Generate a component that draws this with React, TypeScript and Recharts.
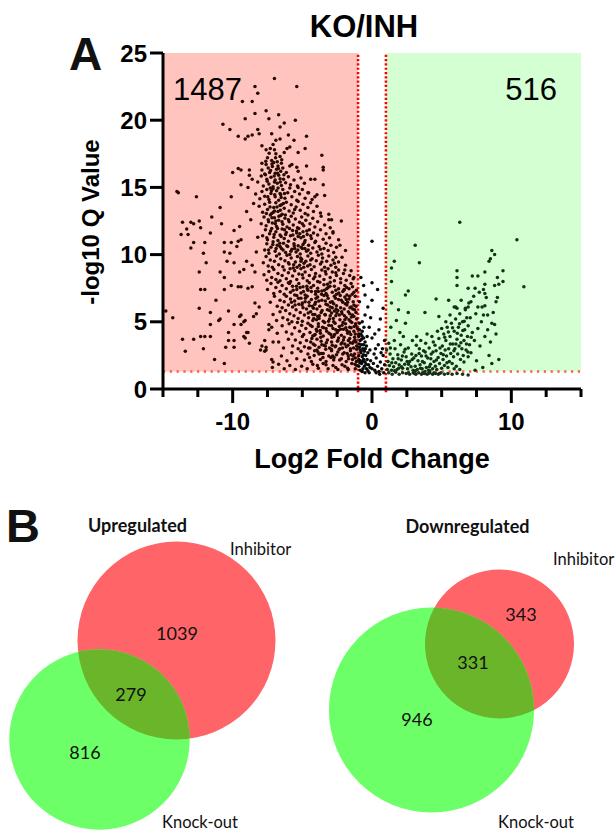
import React from 'react';
import {
  ReferenceArea,
  ReferenceLine,
  Scatter,
  ScatterChart,
  Surface,
  XAxis,
  YAxis
} from 'recharts';

const SANS = '"Liberation Sans", Arial, sans-serif';
const VENN_FONT = 'Lato, "Open Sans", sans-serif';

const xTicks = [-15, -12.5, -10, -7.5, -5, -2.5, 0, 2.5, 5, 7.5, 10, 12.5, 15];
const xLabeled = [-10, 0, 10];
const yTicks = [0, 5, 10, 15, 20, 25];
const fcCut = 1;
const qCut = 1.3;
const downCount = '1487';
const upCount = '516';

// flat x,y pairs
const downHalo = [
  -14.8, 5.8, -14.3, 5.3, -14.0, 14.7, -13.6, 12.4, -13.7, 11.5, -13.3, 11.9, -13.0, 12.4, -12.8, 12.3,
  -13.2, 11.5, -12.8, 10.9, -13.0, 10.5, -12.4, 12.5, -12.3, 12.0, -12.0, 10.9, -12.1, 10.1, -11.9, 9.4,
  -12.4, 8.7, -12.3, 7.4, -12.0, 7.4, -12.4, 6.0, -11.6, 5.7, -11.6, 4.8, -13.6, 3.7, -13.4, 2.8,
  -12.8, 3.7, -12.3, 3.9, -12.0, 3.9, -11.6, 3.9, -12.1, 3.0, -11.6, 11.6, -11.5, 12.8, -10.9, 13.5,
  -10.8, 12.3, -10.6, 10.9, -10.1, 10.9, -10.2, 10.1, -10.6, 10.2, -10.9, 8.7, -10.6, 8.3, -10.6, 7.4,
  -10.1, 7.7, -10.3, 5.8, -10.9, 5.2, -11.0, 5.1, -10.3, 4.2, -10.3, 3.6, -10.5, 3.1, -9.9, 3.1,
  -10.6, 1.9, -9.6, 11.0, -9.4, 11.1, -9.9, 11.8, -9.5, 12.1, -9.7, 10.6, -9.9, 9.4, -9.2, 8.9,
  -9.5, 8.7, -9.6, 7.6, -9.4, 7.6, -9.4, 5.5, -9.5, 5.4, -9.2, 5.0, -9.4, 4.8, -9.9, 4.8,
  -9.9, 3.6, -9.1, 5.1, -9.0, 4.2, -9.2, 3.9, -9.1, 3.8, -8.9, 4.2, -8.8, 3.4, -8.5, 5.4,
  -8.3, 5.6, -8.4, 6.4, -8.1, 6.1, -8.6, 9.2, -8.4, 8.7, -9.0, 9.5, -8.6, 7.6, -8.9, 7.5,
  -8.0, 2.9, -7.7, 2.8, -7.6, 2.9, -7.9, 3.2, -7.6, 3.1, -7.4, 4.4, -7.4, 4.8, -7.7, 3.6,
  -7.1, 3.5, -7.2, 2.2, -7.1, 2.0, -12.6, 14.3, -13.9, 14.6, -10.1, 14.3, -9.4, 15.2, -8.9, 15.0,
  -8.6, 15.6, -10.0, 16.1, -9.6, 16.4, -9.4, 16.3, -8.8, 16.3, -8.8, 15.9, -7.9, 16.8, -9.1, 18.6,
  -9.6, 18.8, -8.9, 18.8, -8.6, 18.9, -8.2, 19.3, -8.1, 19.0, -7.2, 19.0, -6.6, 19.5, -6.6, 18.6,
  -6.9, 18.5, -6.0, 18.9, -5.6, 18.5, -4.7, 18.8, -7.9, 18.1, -7.6, 17.8, -6.1, 17.9, -5.9, 18.0,
  -5.3, 17.6, -4.8, 17.9, -3.6, 17.4, -5.9, 16.6, -5.4, 16.5, -4.7, 16.6, -3.5, 16.5, -3.5, 16.3,
  -4.1, 15.6, -5.3, 15.0, -4.6, 14.6, -4.1, 14.3, -3.4, 14.4, -3.5, 15.2, -7.0, 23.1, -5.4, 22.5,
  -8.4, 22.5, -8.2, 22.0, -9.3, 21.4, -8.6, 21.4, -10.7, 19.7, -10.2, 19.3, -9.1, 20.1, -8.4, 20.5,
  -7.6, 20.7, -7.4, 20.1, -6.7, 20.4, -6.3, 19.8, -5.5, 20.0, -2.4, 11.1, -2.3, 10.7, -3.0, 12.0,
  -2.8, 11.6, -1.9, 10.3, -2.6, 9.8, -1.5, 8.8, -1.3, 8.3, -2.2, 12.5, -3.1, 13.0, -2.9, 12.6,
  -11.2, 6.6, -10.4, 9.5, -11.3, 2.2, -8.7, 12.6, -8.2, 11.3, -8.5, 13.8, -9.0, 13.2, -8.3, 10.2
];

const downCore = [
  -7.3, 17.9, -6.9, 17.5, -7.1, 18.2, -6.6, 17.3, -7.5, 17.2, -6.8, 16.9, -7.2, 17.0, -6.3, 17.6,
  -7.0, 17.8, -6.5, 16.8,
  -7.9, 16.3, -7.6, 16.7, -7.35, 16.1, -7.15, 16.55, -6.95, 16.05, -6.75, 16.6, -6.55, 16.2, -7.45, 16.45,
  -7.05, 16.85, -6.4, 16.45, -6.15, 16.1, -7.7, 16.0, -6.85, 16.35, -5.75, 16.7, -5.3, 16.2,
  -8.2, 15.4, -7.95, 15.85, -7.8, 15.1, -7.55, 15.6, -7.4, 15.25, -7.25, 15.75, -7.1, 15.05, -6.95, 15.55,
  -6.8, 15.3, -6.7, 15.9, -6.5, 15.15, -6.35, 15.6, -6.2, 15.35, -6.0, 15.8, -5.85, 15.2, -5.6, 15.55,
  -5.35, 15.1, -5.1, 15.7, -4.85, 15.3, -7.65, 15.95, -7.0, 15.4, -6.6, 15.65, -4.4, 15.6,
  -8.35, 14.5, -8.05, 14.15, -7.9, 14.7, -7.7, 14.35, -7.55, 14.85, -7.4, 14.1, -7.25, 14.55, -7.1, 14.9,
  -6.95, 14.3, -6.85, 14.75, -6.7, 14.05, -6.55, 14.45, -6.4, 14.85, -6.25, 14.2, -6.05, 14.6, -5.9, 14.95,
  -5.75, 14.3, -5.55, 14.7, -5.4, 14.05, -5.2, 14.5, -5.0, 14.85, -4.8, 14.2, -4.55, 14.6, -4.3, 14.1,
  -3.95, 14.45, -7.3, 14.95, -6.6, 14.55,
  -8.1, 13.6, -7.85, 13.15, -7.7, 13.75, -7.5, 13.35, -7.35, 13.9, -7.2, 13.05, -7.05, 13.5, -6.9, 13.85,
  -6.75, 13.2, -6.6, 13.65, -6.45, 13.0, -6.3, 13.45, -6.15, 13.9, -5.95, 13.25, -5.8, 13.7, -5.65, 13.1,
  -5.45, 13.55, -5.3, 13.95, -5.15, 13.3, -4.95, 13.75, -4.8, 13.05, -4.6, 13.5, -4.4, 13.85, -4.2, 13.2,
  -3.95, 13.6, -3.7, 13.1, -7.0, 13.25, -6.5, 13.7, -5.55, 13.35,
  -7.95, 12.3, -7.75, 12.8, -7.6, 12.15, -7.45, 12.6, -7.3, 12.95, -7.15, 12.35, -7.0, 12.75, -6.85, 12.1,
  -6.7, 12.55, -6.55, 12.9, -6.4, 12.25, -6.25, 12.7, -6.1, 12.05, -5.95, 12.45, -5.8, 12.85, -5.65, 12.2,
  -5.5, 12.65, -5.35, 12.0, -5.2, 12.4, -5.05, 12.8, -4.9, 12.15, -4.75, 12.55, -4.6, 12.95, -4.45, 12.3,
  -4.25, 12.7, -4.1, 12.05, -3.9, 12.45, -3.65, 12.85, -3.4, 12.2, -6.9, 12.5, -6.0, 12.6, -5.0, 12.3,
  -3.1, 12.6,
  -7.85, 11.4, -7.65, 11.85, -7.5, 11.1, -7.35, 11.55, -7.2, 11.95, -7.05, 11.3, -6.9, 11.7, -6.75, 11.05,
  -6.6, 11.45, -6.45, 11.9, -6.3, 11.2, -6.15, 11.65, -6.0, 11.0, -5.85, 11.4, -5.7, 11.8, -5.55, 11.15,
  -5.4, 11.6, -5.25, 11.95, -5.1, 11.25, -4.95, 11.7, -4.8, 11.05, -4.65, 11.5, -4.5, 11.85, -4.35, 11.2,
  -4.2, 11.6, -4.05, 11.0, -3.9, 11.45, -3.7, 11.85, -3.5, 11.15, -3.3, 11.55, -3.05, 11.25, -2.8, 11.7,
  -6.2, 11.5, -5.3, 11.35, -4.4, 11.4,
  -7.7, 10.35, -7.55, 10.8, -7.4, 10.1, -7.25, 10.55, -7.1, 10.95, -6.95, 10.25, -6.8, 10.7, -6.65, 10.05,
  -6.5, 10.45, -6.35, 10.85, -6.2, 10.15, -6.05, 10.6, -5.9, 10.0, -5.75, 10.4, -5.6, 10.8, -5.45, 10.2,
  -5.3, 10.65, -5.15, 10.05, -5.0, 10.45, -4.85, 10.9, -4.7, 10.25, -4.55, 10.7, -4.4, 10.1, -4.25, 10.5,
  -4.1, 10.9, -3.95, 10.2, -3.8, 10.6, -3.6, 10.05, -3.45, 10.45, -3.3, 10.85, -3.15, 10.3, -2.95, 10.7,
  -2.75, 10.15, -2.55, 10.55, -6.6, 10.6, -5.55, 10.45, -4.95, 10.75, -3.7, 10.4,
  -7.8, 9.4, -7.6, 9.85, -7.45, 9.15, -7.3, 9.6, -7.15, 9.05, -7.0, 9.5, -6.85, 9.9, -6.7, 9.25,
  -6.55, 9.7, -6.4, 9.1, -6.25, 9.55, -6.1, 9.95, -5.95, 9.3, -5.8, 9.75, -5.65, 9.0, -5.5, 9.45,
  -5.35, 9.85, -5.2, 9.2, -5.05, 9.65, -4.9, 9.05, -4.75, 9.5, -4.6, 9.9, -4.45, 9.25, -4.3, 9.7,
  -4.15, 9.1, -4.0, 9.55, -3.85, 9.95, -3.7, 9.3, -3.55, 9.75, -3.4, 9.05, -3.25, 9.5, -3.1, 9.9,
  -2.95, 9.2, -2.8, 9.6, -2.6, 9.05, -2.4, 9.45, -2.15, 9.8, -1.9, 9.2, -6.0, 9.4, -5.1, 9.5,
  -4.4, 9.6, -3.6, 9.45, -2.7, 9.35,
  -7.75, 8.5, -7.55, 8.1, -7.4, 8.75, -7.2, 8.3, -7.05, 8.9, -6.9, 8.15, -6.75, 8.6, -6.6, 8.05,
  -6.45, 8.45, -6.3, 8.85, -6.15, 8.2, -6.0, 8.65, -5.85, 8.0, -5.7, 8.4, -5.55, 8.8, -5.4, 8.15,
  -5.25, 8.55, -5.1, 8.95, -4.95, 8.25, -4.8, 8.7, -4.65, 8.05, -4.5, 8.45, -4.35, 8.9, -4.2, 8.2,
  -4.05, 8.6, -3.9, 8.0, -3.75, 8.4, -3.6, 8.85, -3.45, 8.15, -3.3, 8.55, -3.15, 8.95, -3.0, 8.3,
  -2.85, 8.7, -2.7, 8.05, -2.55, 8.45, -2.4, 8.85, -2.25, 8.2, -2.05, 8.6, -1.85, 8.1, -1.6, 8.45,
  -1.35, 8.2, -5.0, 8.5, -4.1, 8.35, -3.35, 8.75, -2.6, 8.65, -1.95, 8.85,
  -7.5, 7.4, -7.25, 7.85, -7.05, 7.1, -6.9, 7.55, -6.75, 7.95, -6.6, 7.25, -6.45, 7.7, -6.3, 7.05,
  -6.15, 7.45, -6.0, 7.9, -5.85, 7.2, -5.7, 7.65, -5.55, 7.0, -5.4, 7.4, -5.25, 7.85, -5.1, 7.15,
  -4.95, 7.6, -4.8, 7.0, -4.65, 7.45, -4.5, 7.9, -4.35, 7.25, -4.2, 7.7, -4.05, 7.05, -3.9, 7.5,
  -3.75, 7.95, -3.6, 7.3, -3.45, 7.75, -3.3, 7.1, -3.15, 7.55, -3.0, 7.95, -2.85, 7.2, -2.7, 7.65,
  -2.55, 7.05, -2.4, 7.45, -2.25, 7.9, -2.1, 7.25, -1.95, 7.7, -1.8, 7.0, -1.65, 7.45, -1.5, 7.85,
  -1.3, 7.2, -4.6, 7.35, -3.85, 7.25, -3.2, 7.8, -2.6, 7.35, -2.0, 7.4, -1.4, 7.6,
  -7.3, 6.45, -7.0, 6.9, -6.8, 6.15, -6.6, 6.6, -6.45, 6.05, -6.3, 6.5, -6.15, 6.9, -6.0, 6.25,
  -5.85, 6.7, -5.7, 6.1, -5.55, 6.55, -5.4, 6.95, -5.25, 6.3, -5.1, 6.75, -4.95, 6.05, -4.8, 6.5,
  -4.65, 6.9, -4.5, 6.2, -4.35, 6.65, -4.2, 6.0, -4.05, 6.45, -3.9, 6.85, -3.75, 6.15, -3.6, 6.6,
  -3.45, 6.95, -3.3, 6.3, -3.15, 6.75, -3.0, 6.1, -2.85, 6.5, -2.7, 6.9, -2.55, 6.2, -2.4, 6.65,
  -2.25, 6.05, -2.1, 6.45, -1.95, 6.85, -1.8, 6.25, -1.65, 6.7, -1.5, 6.1, -1.35, 6.5, -1.2, 6.9,
  -5.0, 6.4, -4.1, 6.3, -3.35, 6.55, -2.75, 6.35, -2.2, 6.6, -1.75, 6.45, -1.3, 6.25, -1.6, 6.9,
  -7.1, 5.55, -6.85, 5.1, -6.6, 5.75, -6.4, 5.3, -6.2, 5.85, -6.05, 5.15, -5.9, 5.6, -5.75, 5.0,
  -5.6, 5.45, -5.45, 5.9, -5.3, 5.25, -5.15, 5.7, -5.0, 5.05, -4.85, 5.5, -4.7, 5.95, -4.55, 5.3,
  -4.4, 5.75, -4.25, 5.1, -4.1, 5.55, -3.95, 5.95, -3.8, 5.25, -3.65, 5.7, -3.5, 5.05, -3.35, 5.5,
  -3.2, 5.9, -3.05, 5.2, -2.9, 5.65, -2.75, 5.0, -2.6, 5.45, -2.45, 5.85, -2.3, 5.15, -2.15, 5.6,
  -2.0, 5.95, -1.85, 5.3, -1.7, 5.75, -1.55, 5.05, -1.4, 5.5, -1.25, 5.9, -1.1, 5.2, -3.9, 5.4,
  -3.0, 5.45, -2.35, 5.5, -1.95, 5.15, -1.6, 5.6, -1.3, 5.4, -2.7, 5.8, -1.15, 5.7,
  -7.2, 4.6, -6.8, 4.15, -6.45, 4.7, -6.15, 4.25, -5.95, 4.85, -5.75, 4.1, -5.55, 4.55, -5.35, 4.95,
  -5.2, 4.3, -5.05, 4.75, -4.9, 4.05, -4.75, 4.5, -4.6, 4.9, -4.45, 4.2, -4.3, 4.65, -4.15, 4.0,
  -4.0, 4.45, -3.85, 4.85, -3.7, 4.15, -3.55, 4.6, -3.4, 4.95, -3.25, 4.3, -3.1, 4.75, -2.95, 4.05,
  -2.8, 4.5, -2.65, 4.9, -2.5, 4.2, -2.35, 4.65, -2.2, 4.0, -2.05, 4.45, -1.9, 4.85, -1.75, 4.15,
  -1.6, 4.6, -1.45, 4.95, -1.3, 4.3, -1.15, 4.7, -3.95, 4.3, -3.3, 4.5, -2.6, 4.4, -2.15, 4.75,
  -1.8, 4.35, -1.5, 4.55, -1.2, 4.1, -2.9, 4.7, -1.05, 4.5,
  -6.7, 3.5, -6.35, 3.05, -6.0, 3.7, -5.7, 3.2, -5.5, 3.65, -5.3, 3.0, -5.15, 3.45, -5.0, 3.9,
  -4.85, 3.15, -4.7, 3.6, -4.55, 3.05, -4.4, 3.5, -4.25, 3.95, -4.1, 3.25, -3.95, 3.7, -3.8, 3.1,
  -3.65, 3.55, -3.5, 3.95, -3.35, 3.2, -3.2, 3.65, -3.05, 3.05, -2.9, 3.5, -2.75, 3.9, -2.6, 3.2,
  -2.45, 3.6, -2.3, 3.0, -2.15, 3.45, -2.0, 3.85, -1.85, 3.15, -1.7, 3.6, -1.55, 3.0, -1.4, 3.4,
  -1.25, 3.85, -1.1, 3.2, -3.6, 3.3, -2.85, 3.25, -2.4, 3.8, -1.95, 3.35, -1.6, 3.75, -1.3, 3.55,
  -1.15, 3.5,
  -6.5, 2.45, -6.1, 2.1, -5.75, 2.7, -5.4, 2.25, -5.1, 2.8, -4.85, 2.15, -4.6, 2.6, -4.35, 2.05,
  -4.15, 2.5, -3.95, 2.9, -3.7, 2.2, -3.5, 2.65, -3.3, 2.05, -3.1, 2.45, -2.9, 2.85, -2.75, 2.15,
  -2.55, 2.55, -2.35, 2.95, -2.2, 2.25, -2.0, 2.7, -1.85, 2.05, -1.7, 2.45, -1.55, 2.85, -1.4, 2.2,
  -1.25, 2.6, -1.1, 2.95, -3.8, 2.6, -2.95, 2.35, -2.1, 2.6, -1.5, 2.55, -1.2, 2.3,
  -7.15, 1.6, -6.7, 1.85, -6.3, 1.5, -5.9, 1.75, -5.5, 1.45, -5.05, 1.7, -4.65, 1.5, -4.25, 1.85,
  -3.85, 1.55, -3.5, 1.9, -3.15, 1.5, -2.8, 1.75, -2.45, 1.45, -2.15, 1.8, -1.75, 1.55, -1.45, 1.9,
  -1.2, 1.5, -3.3, 1.8, -2.6, 1.6, -1.95, 1.7, -1.1, 1.75
];

// extra points where the left cluster is darkest
const downFill = [
  -4.48, 2.35, -4.32, 3.75, -4.18, 5.25, -4.02, 6.75, -3.88, 2.75, -3.72, 4.35, -3.58, 5.85, -3.42, 7.35,
  -3.28, 3.45, -3.12, 5.05, -2.98, 6.45, -2.82, 2.45, -2.68, 4.05, -2.52, 5.65, -2.38, 7.15, -2.22, 3.35,
  -2.08, 4.95, -1.92, 6.35, -1.78, 2.65, -1.62, 4.25, -1.48, 5.35, -1.32, 3.05, -1.18, 4.85, -1.12, 2.05,
  -4.42, 4.75, -4.28, 6.15, -4.12, 2.85, -3.98, 5.15, -3.82, 6.55, -3.68, 3.85, -3.52, 2.35, -3.38, 5.55,
  -3.22, 6.95, -3.08, 4.15, -2.92, 2.95, -2.78, 5.25, -2.62, 6.75, -2.48, 3.55, -2.32, 2.15, -2.18, 5.75,
  -2.02, 7.35, -1.88, 4.55, -1.72, 3.25, -1.58, 6.05, -1.42, 7.05, -1.28, 4.65, -1.15, 6.15, -1.22, 1.85,
  -4.38, 7.55, -4.22, 3.35, -4.08, 4.05, -3.92, 1.75, -3.78, 5.45, -3.62, 7.05, -3.48, 4.55, -3.32, 2.95,
  -3.18, 6.25, -3.02, 7.65, -2.88, 3.85, -2.72, 2.35, -2.58, 5.95, -2.42, 4.35, -2.28, 6.95, -2.12, 3.05,
  -1.98, 5.45, -1.82, 7.55, -1.68, 2.25, -1.52, 4.05, -1.38, 5.95, -1.22, 3.65, -1.12, 7.35, -1.7, 1.45,
  -4.58, 5.65, -4.45, 3.05, -4.05, 7.25, -3.65, 2.65, -3.25, 7.45, -2.85, 6.05, -2.45, 2.75, -2.05, 3.65,
  -1.65, 5.15, -1.35, 2.45, -1.55, 3.45, -1.85, 6.65, -2.25, 4.45, -2.65, 3.15, -3.05, 5.85, -3.45, 3.25,
  -3.85, 4.65, -4.25, 5.55,
  -7.62, 16.95, -7.38, 17.55, -7.18, 16.75, -6.92, 17.2, -6.72, 16.4, -6.48, 17.05, -7.52, 15.45, -7.28, 16.25,
  -7.02, 15.85, -6.78, 16.05, -6.58, 15.4, -6.32, 15.95, -7.48, 14.3, -7.22, 14.75, -6.98, 14.45, -6.74, 14.95,
  -6.52, 14.25, -6.28, 14.55, -7.58, 13.05, -7.32, 13.55, -7.08, 13.15, -6.82, 13.55, -6.58, 13.3, -6.36, 13.8,
  -7.42, 12.45, -7.18, 12.75, -6.94, 12.3, -6.68, 12.85, -6.46, 12.45, -6.22, 12.95, -7.55, 11.25, -7.28, 11.75,
  -7.02, 11.5, -6.78, 11.95, -6.52, 11.35, -6.28, 11.85, -7.42, 10.35, -7.12, 10.75, -6.88, 10.45, -6.62, 10.85,
  -6.38, 10.35, -6.12, 10.65,
  -5.92, 11.95, -5.68, 11.45, -5.42, 11.75, -5.18, 11.55, -4.92, 11.35, -4.68, 11.75, -5.82, 10.25, -5.58, 10.65,
  -5.32, 10.35, -5.08, 10.55, -4.82, 10.45, -4.58, 10.35, -5.88, 8.95, -5.62, 9.25, -5.38, 9.05, -5.12, 9.75,
  -4.88, 9.35, -4.62, 9.15, -5.92, 7.85, -5.66, 7.35, -5.42, 7.65, -5.16, 7.55, -4.92, 7.25, -4.68, 7.65,
  -5.78, 6.45, -5.52, 6.25, -5.28, 6.75, -5.02, 6.25, -4.78, 6.75, -4.52, 6.45
];

const nsPoints = [
  -0.9, 4.4, -0.8, 4.1, -0.7, 4.3, -0.95, 3.9, -0.85, 3.6, -0.6, 3.8, -0.5, 3.5, -0.75, 3.3,
  -0.9, 3.1, -0.65, 3.0, -0.4, 3.2, -0.55, 2.8, -0.8, 2.7, -0.95, 2.5, -0.7, 2.4, -0.45, 2.5,
  -0.3, 2.7, -0.6, 2.2, -0.85, 2.1, -0.5, 2.0, -0.35, 2.2, -0.75, 1.9, -0.95, 1.7, -0.55, 1.7,
  -0.25, 1.8, -0.65, 1.5, -0.4, 1.5, -0.85, 1.4, -0.15, 1.6, -0.1, 2.1, 0.0, 1.5, 0.1, 1.9,
  0.2, 1.4, 0.3, 2.3, 0.15, 2.6, 0.4, 1.7, 0.5, 1.3, 0.6, 2.0, 0.7, 1.5, 0.8, 2.5,
  0.9, 1.8, 0.85, 1.2, 0.55, 1.1, 0.3, 1.2, -0.2, 1.2, -0.5, 1.2, 0.75, 3.0, 0.9, 3.6,
  0.45, 3.3, 0.0, 3.8, -0.2, 4.6, -0.1, 5.3, -0.5, 5.5, -0.7, 5.0, 0.2, 4.1, 0.5, 4.4,
  -0.3, 6.1, 0.0, 6.6, 0.8, 6.0, -0.8, 8.3, -0.6, 7.7, -0.5, 7.0, 0.0, 7.9, 0.4, 7.4,
  0.0, 11.0, -0.9, 6.5, 0.6, 5.2, -0.35, 3.9, 0.25, 3.0, -0.15, 2.9, 0.65, 2.7, -0.9, 4.9,
  -0.75, 3.7, -0.6, 3.3, -0.85, 2.9, -0.95, 2.2, -0.7, 1.3, -0.3, 1.35,
  -0.92, 3.35, -0.78, 2.85, -0.62, 2.55, -0.48, 3.0, -0.88, 1.95, -0.68, 2.05, -0.42, 1.85, -0.95, 4.1,
  -0.72, 3.95, -0.58, 4.6
];

const upPoints = [
  1.2, 1.2, 1.45, 1.1, 1.7, 1.25, 1.95, 1.1, 2.2, 1.2, 2.45, 1.15, 2.7, 1.1, 2.95, 1.2,
  3.15, 1.1, 3.35, 1.2, 3.55, 1.1, 3.75, 1.15, 3.95, 1.1, 4.15, 1.2, 4.35, 1.1, 4.55, 1.15,
  4.75, 1.1, 4.95, 1.2, 5.2, 1.1, 5.45, 1.15, 5.75, 1.1, 6.1, 1.15, 6.5, 1.1, 6.9, 1.05,
  3.05, 1.15, 3.65, 1.2, 4.05, 1.15, 4.45, 1.2, 4.85, 1.15, 2.6, 1.2,
  1.1, 1.45, 1.15, 2.05, 1.25, 1.75, 1.3, 2.6, 1.4, 1.4, 1.5, 2.25, 1.55, 1.65, 1.65, 3.0,
  1.7, 1.95, 1.8, 1.45, 1.85, 2.55, 1.95, 1.8, 2.05, 3.3, 2.1, 2.15, 2.2, 1.55, 2.3, 2.75,
  2.35, 1.85, 2.45, 2.4, 2.55, 1.5, 2.6, 3.05, 2.7, 2.05, 2.8, 1.65, 2.85, 2.6, 2.95, 1.4,
  3.0, 2.3, 1.2, 3.4, 1.6, 3.6, 2.0, 4.2, 2.25, 3.9, 1.35, 4.6, 1.75, 5.1, 2.4, 4.9,
  2.9, 3.6, 1.05, 2.9,
  3.1, 1.7, 3.15, 2.5, 3.25, 1.45, 3.3, 2.1, 3.4, 3.0, 3.45, 1.8, 3.55, 2.45, 3.6, 1.5,
  3.7, 2.85, 3.75, 1.95, 3.85, 3.4, 3.9, 1.6, 4.0, 2.3, 4.05, 1.4, 4.1, 3.05, 4.2, 1.85,
  4.25, 2.6, 4.35, 1.5, 4.4, 3.5, 4.45, 2.05, 4.55, 1.7, 4.6, 2.85, 4.65, 1.45, 4.75, 2.35,
  4.8, 3.75, 4.85, 1.9, 4.95, 2.65, 5.0, 1.55, 3.5, 3.6, 3.95, 4.1, 4.3, 3.9, 3.2, 3.9,
  4.7, 4.3, 3.8, 1.3, 4.15, 1.35,
  5.05, 3.2, 5.1, 2.2, 5.15, 4.1, 5.2, 1.75, 5.25, 2.9, 5.3, 3.6, 5.35, 2.45, 5.4, 4.6,
  5.45, 1.6, 5.5, 3.0, 5.55, 2.05, 5.6, 3.9, 5.65, 2.65, 5.7, 4.9, 5.75, 1.9, 5.8, 3.35,
  5.85, 2.4, 5.9, 4.3, 5.95, 3.0, 6.0, 5.2, 6.05, 1.7, 6.1, 3.7, 6.15, 2.6, 6.2, 4.6,
  6.25, 3.2, 6.3, 5.6, 6.35, 2.2, 6.4, 4.0, 6.45, 3.0, 6.5, 5.0, 6.55, 2.5, 6.6, 3.6,
  6.65, 4.4, 6.7, 6.0, 6.75, 2.9, 6.8, 5.3, 6.85, 3.9, 6.9, 4.7, 6.95, 6.4, 7.0, 3.3,
  5.6, 5.5, 6.0, 6.1, 6.4, 6.6, 5.3, 5.0, 5.0, 4.5, 6.6, 2.0, 6.9, 2.4, 5.9, 1.5,
  6.3, 1.45,
  7.05, 5.3, 7.1, 2.7, 7.2, 4.2, 7.3, 6.9, 7.35, 3.6, 7.45, 5.6, 7.5, 2.1, 7.6, 4.5,
  7.7, 7.2, 7.75, 3.2, 7.85, 5.0, 7.95, 1.6, 8.1, 3.9, 8.3, 4.4, 8.5, 3.5, 8.9, 4.1,
  7.4, 1.4, 8.6, 1.9, 8.2, 6.8,
  3.8, 5.7, 1.9, 5.9, 2.6, 5.7, 4.8, 5.4, 1.4, 6.4, 2.6, 7.3, 2.4, 7.0, 4.6, 6.7,
  5.5, 6.6, 1.6, 9.5, 1.4, 9.0, 1.4, 8.0, 3.1, 10.7, 3.4, 9.4, 6.3, 12.4, 10.4, 11.1,
  10.9, 7.6, 6.1, 8.8, 6.1, 8.3, 6.1, 7.7, 7.2, 8.4, 7.6, 8.4, 8.1, 8.7, 8.6, 10.3,
  8.8, 10.0, 8.5, 9.7, 8.4, 9.5, 9.4, 8.8, 9.0, 8.3, 9.4, 8.0, 8.8, 7.7, 9.1, 7.8,
  8.1, 7.8, 8.0, 7.4, 8.1, 7.1, 6.9, 7.5, 7.4, 7.5, 9.0, 6.8, 8.9, 6.5, 5.9, 6.1,
  6.1, 6.0, 6.7, 5.9, 6.9, 6.1, 7.1, 6.5, 7.6, 6.1, 7.9, 6.1, 8.1, 6.2, 8.0, 5.5,
  8.3, 5.5, 8.6, 4.9, 8.8, 4.8, 8.7, 5.7, 8.4, 2.5, 9.1, 2.2,
  1.62, 1.35, 1.88, 2.25, 2.12, 1.65, 2.38, 2.95, 2.62, 1.85, 2.88, 2.2, 3.12, 1.35, 3.38, 2.65,
  3.62, 2.05, 3.88, 2.45, 4.12, 1.65, 4.38, 2.75, 4.62, 2.15, 4.88, 3.05, 5.12, 2.55, 5.38, 1.95,
  5.62, 3.35, 5.88, 2.85, 6.12, 4.15, 6.38, 3.45, 6.62, 5.05, 6.88, 2.75, 7.12, 3.85, 5.22, 3.85,
  5.48, 4.25, 5.78, 4.55, 6.02, 3.35, 6.28, 4.85, 6.52, 4.35, 6.78, 3.35, 4.52, 3.25, 4.22, 2.25,
  3.82, 2.75, 3.48, 1.55, 3.18, 3.25, 2.52, 2.05, 2.18, 2.45, 1.92, 1.55, 1.42, 1.95, 1.32, 3.05
];

// Venn counts: [inhibitor only, both, knock-out only]
const upCounts = [1039, 279, 816];
const downCounts = [343, 331, 946];
const setNames = ['Inhibitor', 'Knock-out'];

const toPoints = (a: number[]) => {
  const out: { x: number; y: number }[] = [];
  for (let i = 0; i < a.length; i += 2) out.push({ x: a[i], y: a[i + 1] });
  return out;
};

const dot = (fill: string) => (p: any) => <circle cx={p.cx} cy={p.cy} r={1.75} fill={fill} />;

function XTick(props: any) {
  const { x, y, payload } = props;
  const major = xLabeled.includes(payload.value);
  return (
    <g>
      <line x1={x} x2={x} y1={y} y2={y + (major ? 14 : 8)} stroke="#000" strokeWidth={3} />
      {major && (
        <text x={x} y={y + 41} textAnchor="middle" fontFamily={SANS} fontWeight={700} fontSize={24} fill="#000">
          {payload.value}
        </text>
      )}
    </g>
  );
}

function XTitle() {
  return (
    <text x={372} y={468} textAnchor="middle" fontFamily={SANS} fontWeight={700} fontSize={27} fill="#000">
      Log2 Fold Change
    </text>
  );
}

function YTitle() {
  return (
    <text
      x={90}
      y={222}
      transform="rotate(-90 90 222)"
      textAnchor="middle"
      dominantBaseline="central"
      fontFamily={SANS}
      fontWeight={700}
      fontSize={24}
      fill="#000"
    >
      -log10 Q Value
    </text>
  );
}

function CornerCount({ viewBox, text, side }: any) {
  if (!viewBox) return null;
  const left = side === 'left';
  const x = left ? viewBox.x + 10 : viewBox.x + viewBox.width - 24;
  return (
    <text x={x} y={viewBox.y + 47} textAnchor={left ? 'start' : 'end'} fontFamily={SANS} fontSize={31} fill="#000">
      {text}
    </text>
  );
}

function Volcano() {
  return (
    <ScatterChart width={616} height={490} margin={{ top: 53, right: 35, bottom: 0, left: 0 }}>
      <ReferenceArea x1={-15} x2={-fcCut} y1={qCut} y2={25} fill="#ffc4be" fillOpacity={1} stroke="none"
        label={<CornerCount text={downCount} side="left" />} />
      <ReferenceArea x1={fcCut} x2={15} y1={qCut} y2={25} fill="#d3ffd3" fillOpacity={1} stroke="none"
        label={<CornerCount text={upCount} side="right" />} />
      <XAxis
        type="number"
        dataKey="x"
        domain={[-15, 15]}
        ticks={xTicks}
        interval={0}
        height={101}
        tickSize={0}
        tickMargin={0}
        tickLine={false}
        tick={<XTick />}
        axisLine={{ stroke: '#000', strokeWidth: 3 }}
        label={<XTitle />}
        allowDataOverflow
      />
      <YAxis
        type="number"
        dataKey="y"
        domain={[0, 25]}
        ticks={yTicks}
        interval={0}
        width={163}
        tickSize={13}
        tickMargin={3}
        tick={{ fill: '#000', fontSize: 24, fontWeight: 700, fontFamily: SANS }}
        tickLine={{ stroke: '#000', strokeWidth: 3 }}
        axisLine={{ stroke: '#000', strokeWidth: 3 }}
        label={<YTitle />}
        allowDataOverflow
      />
      <Scatter data={toPoints(downHalo)} shape={dot('#260b03')} isAnimationActive={false} />
      <Scatter data={toPoints(downCore)} shape={dot('#260b03')} isAnimationActive={false} />
      <Scatter data={toPoints(downFill)} shape={dot('#260b03')} isAnimationActive={false} />
      <Scatter data={toPoints(nsPoints)} shape={dot('#0a0a0a')} isAnimationActive={false} />
      <Scatter data={toPoints(upPoints)} shape={dot('#173018')} isAnimationActive={false} />
      <ReferenceLine y={qCut} stroke="#ff5a4a" strokeWidth={2.4} strokeDasharray="2.2 4.6" />
      <ReferenceLine
        segment={[{ x: -fcCut, y: -0.25 }, { x: -fcCut, y: 25 }]}
        ifOverflow="visible"
        stroke="#ff0000"
        strokeWidth={2.6}
        strokeDasharray="2.2 2.1"
      />
      <ReferenceLine
        segment={[{ x: fcCut, y: -0.25 }, { x: fcCut, y: 25 }]}
        ifOverflow="visible"
        stroke="#ff0000"
        strokeWidth={2.6}
        strokeDasharray="2.2 2.1"
      />
      <text x={364} y={37} textAnchor="middle" fontFamily={SANS} fontWeight={700} fontSize={31} fill="#000">
        KO/INH
      </text>
      <text x={69} y={70} fontFamily={SANS} fontWeight={700} fontSize={46} fill="#111">
        A
      </text>
    </ScatterChart>
  );
}

type VennProps = {
  id: string;
  counts: number[];
  scale: number;
  red: [number, number];
  green: [number, number];
  title: string;
  titleX: number;
  titleY: number;
  inhPos: [number, number];
  koPos: [number, number];
  numPos: [number, number][];
};

function Venn({ id, counts, scale, red, green, title, titleX, titleY, inhPos, koPos, numPos }: VennProps) {
  const rRed = scale * Math.sqrt(counts[0] + counts[1]);
  const rGreen = scale * Math.sqrt(counts[2] + counts[1]);
  return (
    <g>
      <defs>
        <clipPath id={id}>
          <circle cx={red[0]} cy={red[1]} r={rRed} />
        </clipPath>
      </defs>
      <circle cx={red[0]} cy={red[1]} r={rRed} fill="#ff6469" />
      <circle cx={green[0]} cy={green[1]} r={rGreen} fill="#6cff68" />
      <circle cx={green[0]} cy={green[1]} r={rGreen} fill="#6bb52a" clipPath={`url(#${id})`} />
      <text x={titleX} y={titleY} textAnchor="middle" fontFamily={VENN_FONT} fontWeight={700} fontSize={18} fill="#111">
        {title}
      </text>
      <text x={inhPos[0]} y={inhPos[1]} fontFamily={VENN_FONT} fontSize={16.5} fill="#111">
        {setNames[0]}
      </text>
      <text x={koPos[0]} y={koPos[1]} fontFamily={VENN_FONT} fontSize={16.5} fill="#111">
        {setNames[1]}
      </text>
      {counts.map((c, i) => (
        <text key={i} x={numPos[i][0]} y={numPos[i][1]} textAnchor="middle" fontFamily={VENN_FONT} fontSize={18} fill="#111">
          {c}
        </text>
      ))}
    </g>
  );
}

export default function App() {
  return (
    <div style={{ position: 'absolute', left: 0, top: 0, width: 616, height: 833, background: '#fff', fontFamily: SANS }}>
      <Volcano />
      <div style={{ position: 'absolute', left: 0, top: 490 }}>
        <Surface width={616} height={343} viewBox={{ x: 0, y: 0, width: 616, height: 343 }}>
          <text x={6} y={52} fontFamily={SANS} fontWeight={700} fontSize={47} fill="#111">
            B
          </text>
          <Venn
            id="clipUp"
            counts={upCounts}
            scale={2.727}
            red={[176.5, 150.5]}
            green={[99.5, 249.5]}
            title="Upregulated"
            titleX={137.5}
            titleY={42}
            inhPos={[230, 65]}
            koPos={[162, 338]}
            numPos={[[177, 150], [131, 211], [85, 269]]}
          />
          <Venn
            id="clipDown"
            counts={downCounts}
            scale={2.87}
            red={[499.5, 154]}
            green={[431.5, 220]}
            title="Downregulated"
            titleX={467.5}
            titleY={43}
            inhPos={[553, 75]}
            koPos={[498, 338]}
            numPos={[[521, 131], [473, 179], [417, 236]]}
          />
        </Surface>
      </div>
    </div>
  );
}
